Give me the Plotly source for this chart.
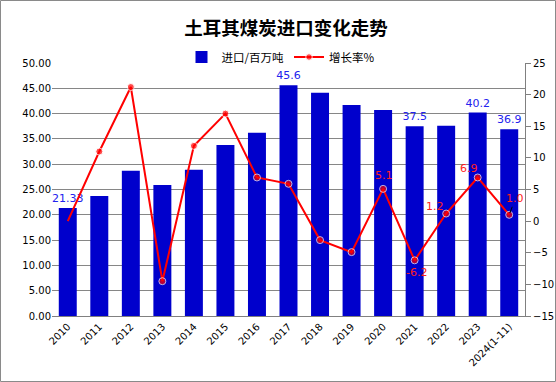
import plotly.graph_objects as go

years = ["2010", "2011", "2012", "2013", "2014", "2015", "2016", "2017",
         "2018", "2019", "2020", "2021", "2022", "2023", "2024(1-11)"]
imports_mt = [21.33, 23.7, 28.7, 25.9, 28.9, 33.8, 36.2, 45.6,
              44.1, 41.7, 40.7, 37.5, 37.6, 40.2, 36.9]
growth_pct = [0.0, 11.0, 21.2, -9.5, 11.9, 17.0, 6.9, 5.9,
              -3.0, -4.9, 5.1, -6.2, 1.2, 6.9, 1.0]
bar_labels = ["21.33", "", "", "", "", "", "", "45.6",
              "", "", "", "37.5", "", "40.2", "36.9"]
line_labels = ["", "", "", "", "", "", "", "",
               "", "", "5.1", "-6.2", "1.2", "6.9", "1.0"]

W, H = 556, 382
ML, MR, MT, MB = 52, 31, 63, 66
PW, PH = W - ML - MR, H - MT - MB

fig = go.Figure()
fig.add_trace(go.Bar(
    x=years, y=imports_mt, name="进口/百万吨",
    marker=dict(color="#0000CC", line=dict(width=0)),
    width=0.57,
    text=bar_labels, textposition="outside", cliponaxis=False,
    constraintext="none",
    textfont=dict(family="DejaVu Sans", size=11, color="#2222EE"),
    yaxis="y",
))
fig.add_trace(go.Scatter(
    x=years, y=growth_pct, name="增长率%", mode="lines+markers",
    line=dict(color="#FF0000", width=2),
    marker=dict(color="#FF0000", size=[0] + [7] * (len(years) - 1)),
    yaxis="y2",
))

# red labels for growth line (x given as category index)
offsets = {10: (1, 13, False), 11: (2, -12, False), 12: (-11, 7, False),
           13: (-9, 9, False), 14: (6, 16, True)}
annotations = []
for i, (dx, dy, arrow) in offsets.items():
    font = dict(family="DejaVu Sans", size=11, color="#FF2020")
    if arrow:
        annotations.append(dict(
            x=i, y=growth_pct[i], xref="x", yref="y2",
            text=line_labels[i], showarrow=True, arrowhead=0, arrowwidth=1,
            arrowcolor="#000000", ax=dx, ay=-dy, standoff=2,
            font=font,
        ))
    else:
        annotations.append(dict(
            x=i, y=growth_pct[i], xref="x", yref="y2",
            text=line_labels[i], showarrow=False, xshift=dx, yshift=dy,
            font=font,
        ))

fig.update_layout(
    width=W, height=H,
    margin=dict(l=ML, r=MR, t=MT, b=MB, autoexpand=False),
    paper_bgcolor="white", plot_bgcolor="white",
    title=dict(text="<b>土耳其煤炭进口变化走势</b>", x=286 / W, xanchor="center",
               y=1 - 29 / H, yanchor="middle", xref="container", yref="container",
               font=dict(family="Noto Sans CJK SC", size=18.5, color="#000000")),
    legend=dict(orientation="h", xref="paper", yref="paper",
                x=(281 - ML) / PW, xanchor="center",
                y=1 + (MT - 57) / PH, yanchor="middle",
                font=dict(family="Noto Sans CJK SC", size=11.5, color="#000000"),
                bgcolor="rgba(0,0,0,0)", itemwidth=30, tracegroupgap=0),
    bargap=0.43,
    showlegend=True,
    xaxis=dict(type="category", range=[-0.5, len(years) - 0.5], tickangle=-45,
               automargin=False,
               showgrid=False, showline=True, linecolor="#808080", linewidth=1,
               ticks="", tickfont=dict(family="DejaVu Sans", size=10, color="#000000")),
    yaxis=dict(range=[0, 50], dtick=5, tickformat=".2f", showgrid=True,
               automargin=False,
               gridcolor="#868686", gridwidth=1, zeroline=False, showline=False,
               ticks="", tickfont=dict(family="DejaVu Sans", size=10, color="#000000")),
    yaxis2=dict(range=[-15, 25], dtick=5, overlaying="y", side="right",
                automargin=False,
                showgrid=False, zeroline=False, showline=True, linecolor="#808080",
                ticks="outside", ticklen=5, tickcolor="#808080",
                tickfont=dict(family="DejaVu Sans", size=10, color="#000000")),
    annotations=annotations,
    shapes=[dict(type="rect", xref="paper", yref="paper",
                 x0=(0.5 - ML) / PW, x1=(W - 0.5 - ML) / PW,
                 y0=(MT + PH - (H - 0.5)) / PH, y1=(MT + PH - 0.5) / PH,
                 line=dict(color="#8A8A8A", width=1), layer="above")],
)

fig.write_html(
    "out.html",
    config={"displayModeBar": False},
    post_script="document.body.style.margin='0';document.body.style.padding='0';"
                "document.body.style.overflow='hidden';",
)
